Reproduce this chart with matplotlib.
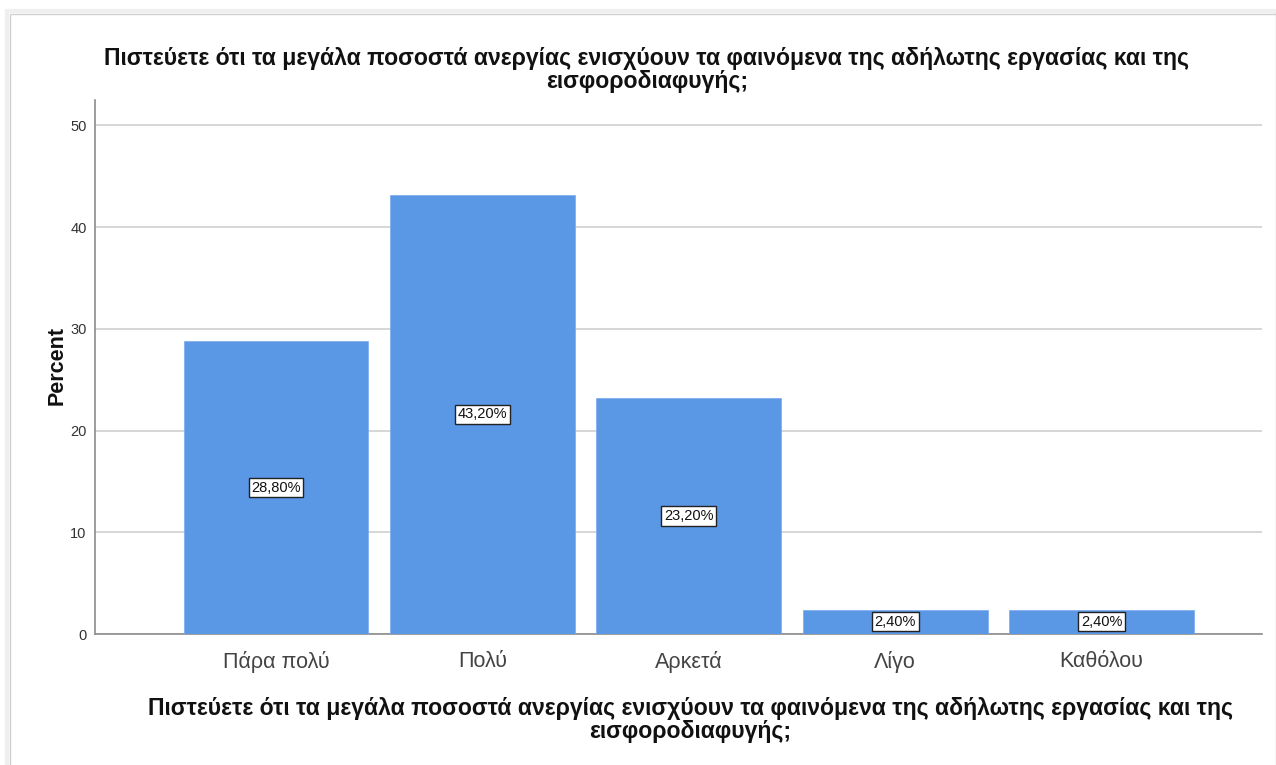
import matplotlib
matplotlib.use("Agg")
import matplotlib.pyplot as plt
from matplotlib.patches import Rectangle

categories = ["Πάρα πολύ", "Πολύ", "Αρκετά", "Λίγο", "Καθόλου"]
percent = [28.8, 43.2, 23.2, 2.4, 2.4]
labels = ["28,80%", "43,20%", "23,20%", "2,40%", "2,40%"]
title = "Πιστεύετε ότι τα μεγάλα ποσοστά ανεργίας ενισχύουν τα φαινόμενα της αδήλωτης εργασίας και της\nεισφοροδιαφυγής;"
yticks = [0, 10, 20, 30, 40, 50]

plt.rcParams['font.family'] = ['Liberation Sans', 'DejaVu Sans']

W, H = 1276, 765
fig = plt.figure(figsize=(W / 100, H / 100), dpi=100)
fig.patch.set_facecolor('white')

# frame with soft shadow
fig.patches.append(Rectangle((7 / W, -0.01), (W - 7) / W, (H - 11) / H + 0.01, transform=fig.transFigure,
                             facecolor='none', edgecolor='#efefef', linewidth=3, zorder=-2))
fig.patches.append(Rectangle((10 / W, -0.01), (W - 10) / W, (H - 14) / H + 0.01, transform=fig.transFigure,
                             facecolor='white', edgecolor='#d0d0d0', linewidth=1.0, zorder=-1))

ax_l, ax_r = 95, 1262
ax_b, ax_t = 634, 100
ax = fig.add_axes([ax_l / W, 1 - ax_b / H, (ax_r - ax_l) / W, (ax_b - ax_t) / H])
ax.set_facecolor('none')
ax.set_zorder(2)

x = list(range(len(categories)))
ax.bar(x, percent, width=0.895, color='#5a97e4', edgecolor='#7aaaf0', linewidth=0.5, zorder=3)

for xi, v, lab in zip(x, percent, labels):
    ax.text(xi, v / 2, lab, ha='center', va='center', fontsize=10.5, color='#111111', zorder=5,
            bbox=dict(boxstyle='square,pad=0.18', facecolor='white', edgecolor='#222222', linewidth=1.0))

ax.set_xlim(-0.877, 4.777)
ax.set_ylim(0, 52.5)
ax.set_yticks(yticks)
ax.set_yticklabels([str(t) for t in yticks], fontsize=10.5, color='#333333')
ax.set_xticks(x)
ax.set_xticklabels(categories, fontsize=15.5, color='#444444')
ax.tick_params(axis='x', length=0, pad=12)
ax.tick_params(axis='y', length=0, pad=6)

ax.grid(axis='y', color='#cfcfcf', linewidth=1.2, zorder=0)
for s in ['top', 'right']:
    ax.spines[s].set_visible(False)
ax.spines['left'].set_color('#8c8c8c')
ax.spines['bottom'].set_color('#8c8c8c')
ax.spines['left'].set_linewidth(1.2)
ax.spines['bottom'].set_linewidth(1.2)

fig.text(647 / W, 1 - 70 / H, title, ha='center', va='center', fontsize=16.6, fontweight='bold',
         color='#111111', linespacing=0.98, zorder=3)
fig.text(690 / W, 1 - 720 / H, title, ha='center', va='center', fontsize=16.6, fontweight='bold',
         color='#111111', linespacing=0.98, zorder=3)
fig.text(57 / W, 1 - 365 / H, "Percent", ha='center', va='center', rotation=90, fontsize=15.5,
         fontweight='bold', color='#111111', zorder=3)

fig.savefig("out.png", dpi=100, facecolor='white')
